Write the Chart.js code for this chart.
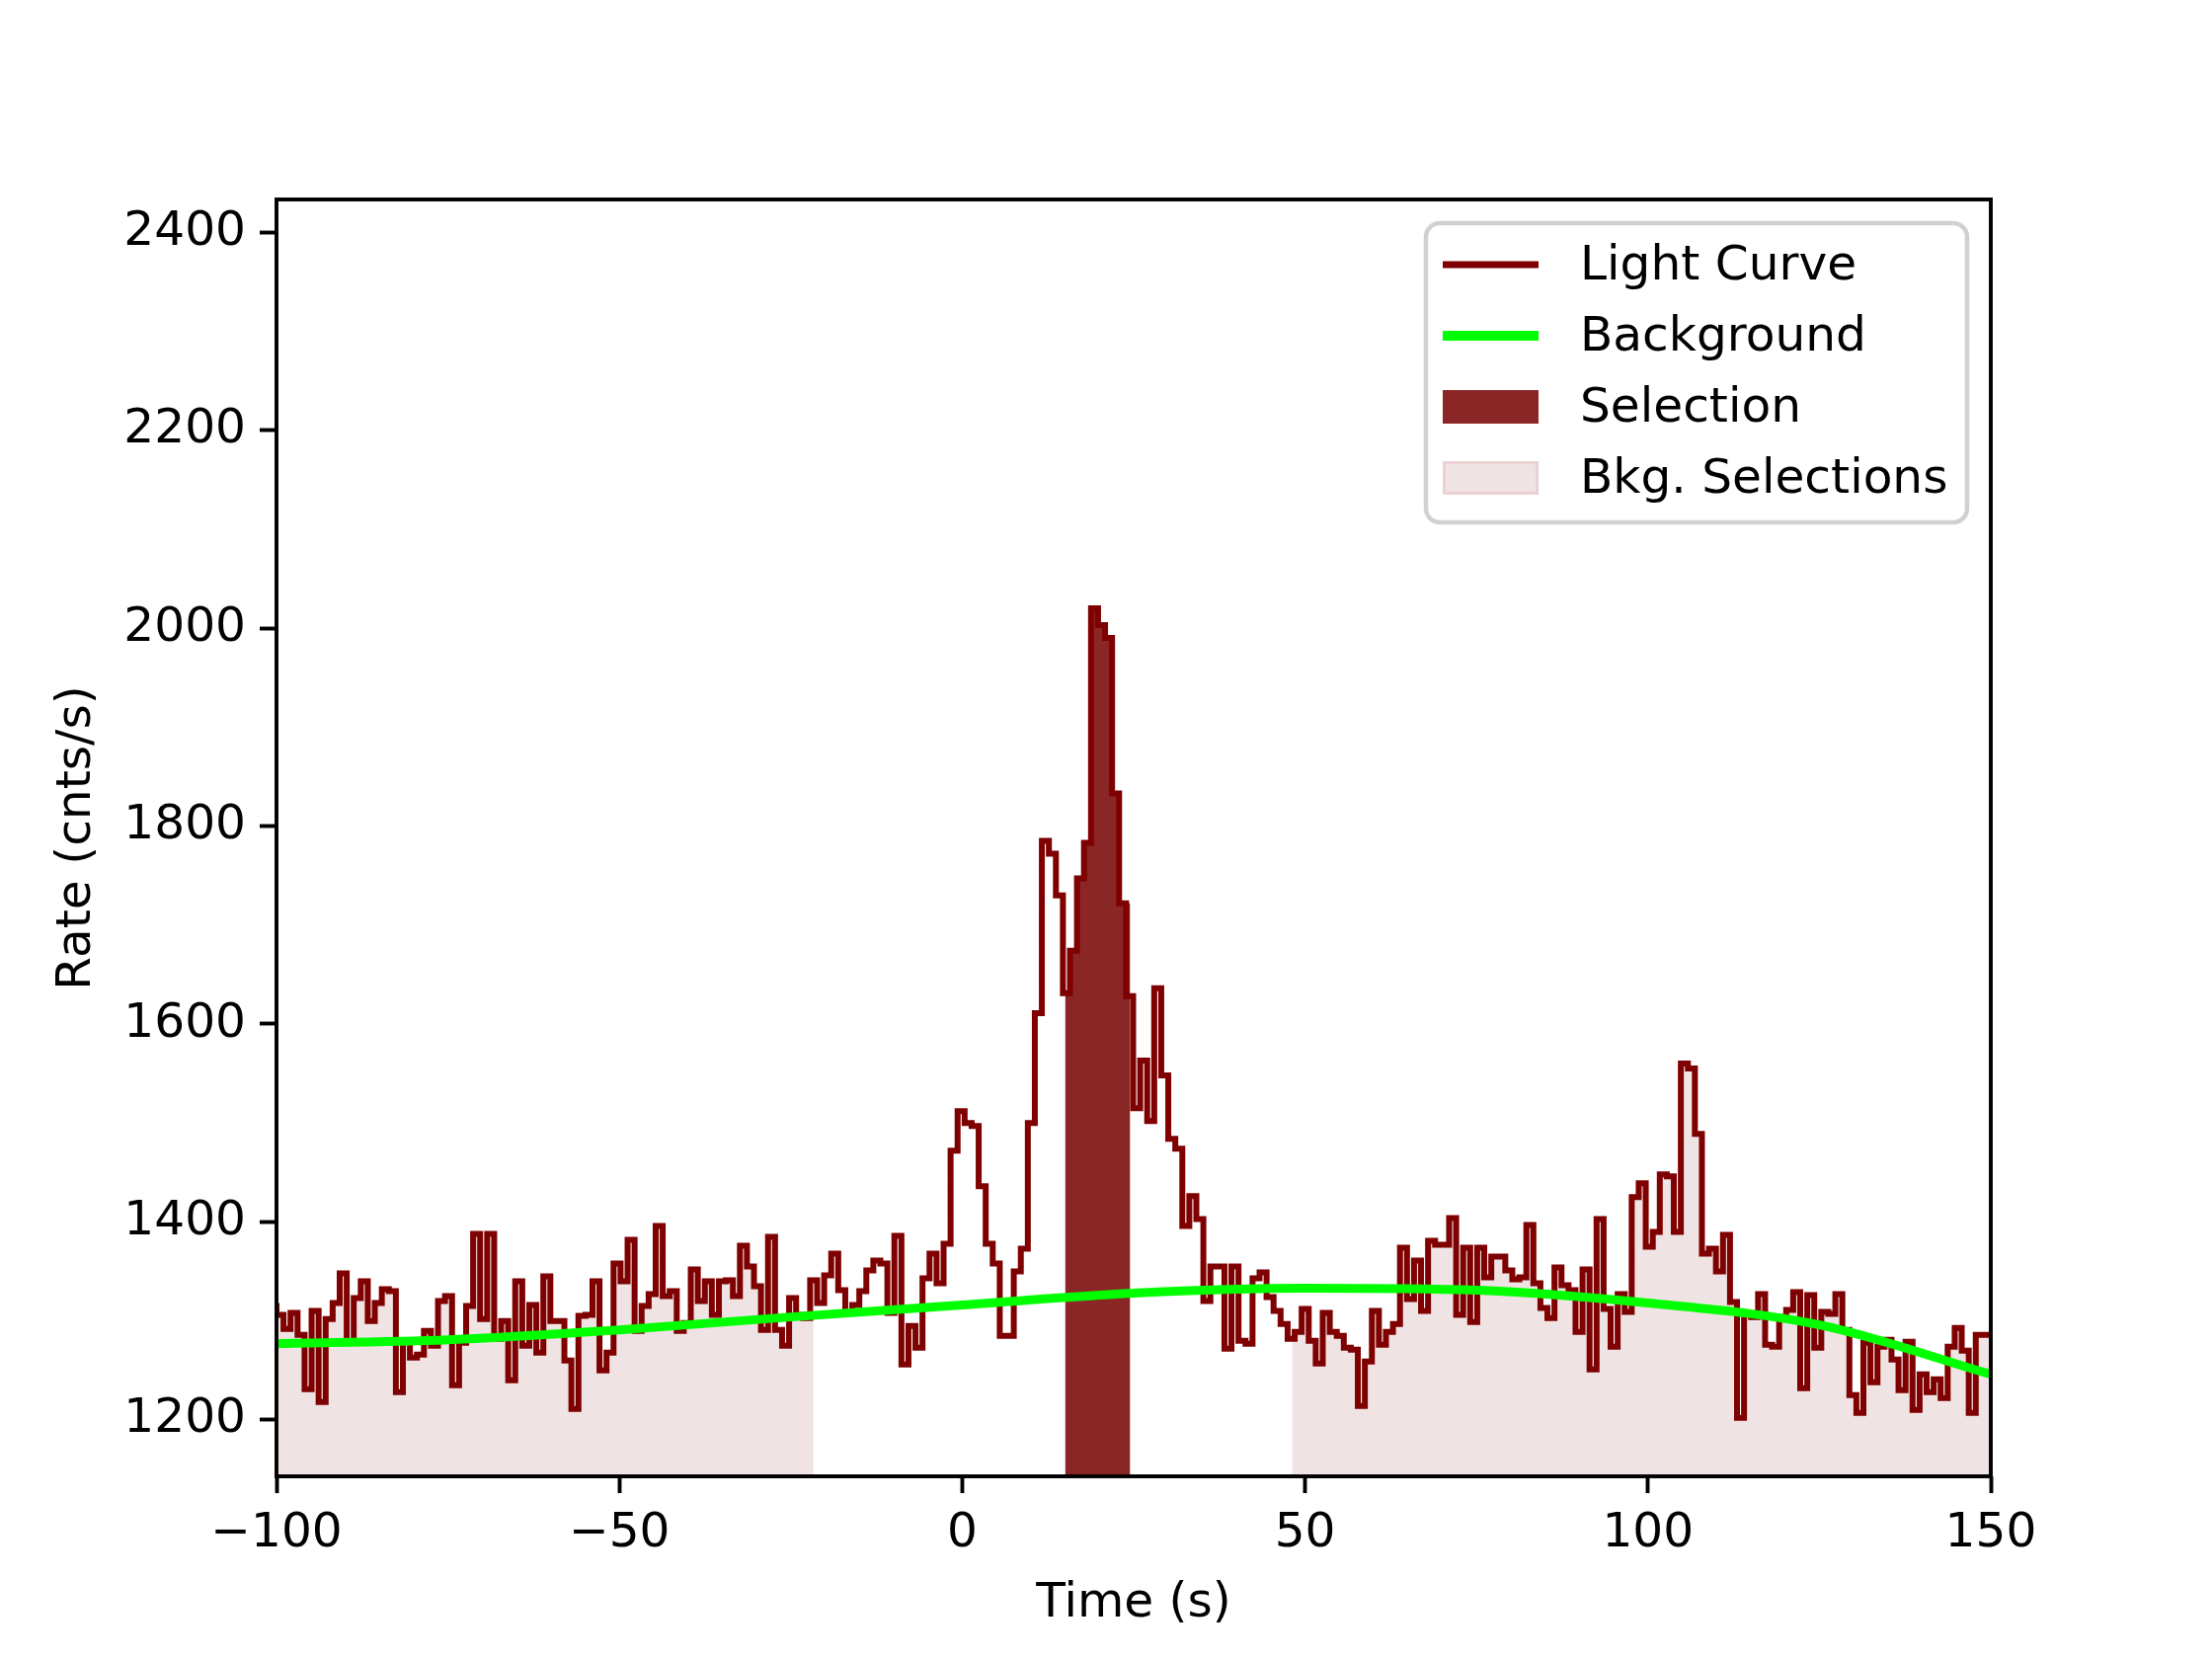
<!DOCTYPE html>
<html><head><meta charset="utf-8">
<script src="https://cdn.jsdelivr.net/npm/chart.js@4.4.1/dist/chart.umd.min.js"></script>
<style>html,body{margin:0;padding:0;background:#fff}</style>
</head><body>
<canvas id="c" width="2240" height="1680" style="width:2240px;height:1680px"></canvas>
<script>
const tStart = -100, tEnd = 150;
const rates = [
1318,1306,1292,1308,1286,1231,1310,1218,1302,1318,1348,1278,1323,1340,1300,1318,1332,1330,1228,1280,1263,1266,1290,1275,1320,1325,1235,1278,1315,1388,1302,1388,1282,1300,1240,1340,1275,1316,1268,1345,1300,1300,1260,1211,1305,1306,1340,1250,1268,1358,1340,1382,1290,1315,1327,1396,1325,1330,1290,1298,1352,1320,1340,1306,
1340,1341,1325,1376,1355,1335,1291,1385,1291,1275,1323,1306,1303,1341,1318,1346,1368,1331,1308,1316,1330,1351,1361,1358,1308,1386,1256,1295,1273,
1343,1368,1338,1378,1472,1512,1500,1497,1436,1378,1358,1285,1285,1350,1373,1500,1611,1785,1772,1730,1631,1674,1747,1783,2020,2003,1990,1833,1722,1628,1515,1563,1502,1636,1548,1484,1474,1396,1426,1403,1320,1355,1355,1272,1355,1280,1277,1343,
1349,1324,1310,1297,1282,1289,1312,1280,1257,1308,1289,1285,1273,1271,1214,1259,1310,1276,1289,1297,1374,1322,1361,1310,1381,1377,1377,1404,1306,1374,1299,1374,1344,1365,1365,1351,1342,1344,1397,1338,1313,1303,1354,1336,1331,1289,1352,
1251,1403,1312,1274,1327,1309,1425,1439,1375,1390,1448,1446,1390,1560,1555,1489,1368,1373,1350,1387,1319,1202,1307,1304,1327,1276,1274,1304,1311,1329,1232,1326,1273,1309,1307,1327,1291,1225,1207,1278,1238,1274,1281,1261,1230,1279,1210,1246,1228,1241,1222,1274,1293,1270,1207,1286
];
const binWidth = 1.024;
const bkgTimes = [-100,-75,-50,-25,0,25,50,75,100,125,150];
const bkgRates = [1277,1281,1291,1304,1316,1328,1333,1331,1318,1296,1246];
const selection = [15, 24.5];
const bkgSelections = [[-100,-21.7],[48.1,150]];
const xTicks = [-100,-50,0,50,100,150];
const yTicks = [1200,1400,1600,1800,2000,2200,2400];

const binW = binWidth;
const lcPts = rates.map((v,i)=>({x: tStart + i*binW, y: v}));
lcPts.push({x: tStart + rates.length*binW, y: rates[rates.length-1]});
function rateAt(t){ let i = Math.floor((t - tStart)/binW); i = Math.max(0, Math.min(rates.length-1, i)); return rates[i]; }
function segPts(a,b){
  const p=[{x:a,y:rateAt(a)}];
  for(let i=0;i<rates.length;i++){const e=tStart+i*binW; if(e>a&&e<b)p.push({x:e,y:rates[i]});}
  p.push({x:b,y:rateAt(b-1e-6)}); return p;
}
const FS = 48.6, FONT = 'DejaVu Sans';
const maroon = '#7f0000', selCol = '#8b2626', bkgCol = '#f0e3e4';

const frame = {id:'frame', afterDraw(ch){
  const a=ch.chartArea, c=ch.ctx; c.save(); c.strokeStyle='#000'; c.lineWidth=3.9;
  c.strokeRect(a.left,a.top,a.right-a.left,a.bottom-a.top);
  const L=1444,T=226,R=1992,B=529; c.lineWidth=4.5; c.strokeStyle='rgba(204,204,204,0.9)'; c.fillStyle='rgba(255,255,255,0.8)';
  c.beginPath(); c.roundRect(L,T,R-L,B-T,14); c.fill(); c.stroke();
  const rows=[268,340,412,484], hx=1461, hw=97;
  c.lineCap='butt';
  c.strokeStyle=maroon; c.lineWidth=7; c.beginPath(); c.moveTo(hx,rows[0]); c.lineTo(hx+hw,rows[0]); c.stroke();
  c.strokeStyle='#00ff00'; c.lineWidth=10; c.beginPath(); c.moveTo(hx,rows[1]); c.lineTo(hx+hw,rows[1]); c.stroke();
  c.fillStyle=selCol; c.fillRect(hx,rows[2]-17,hw,34);
  c.fillStyle=bkgCol; c.fillRect(hx,rows[3]-17,hw,34); c.strokeStyle='#ead2d4'; c.lineWidth=3; c.strokeRect(hx+1.5,rows[3]-15.5,hw-3,31);
  c.fillStyle='#000'; c.font=FS+'px "'+FONT+'"'; c.textBaseline='middle'; c.textAlign='left';
  ['Light Curve','Background','Selection','Bkg. Selections'].forEach((s,i)=>c.fillText(s,1600,rows[i]+2));
  c.restore();
}};

const fillDs = (pts,col,ord)=>({data:pts,stepped:'after',fill:'start',backgroundColor:col,borderWidth:0,pointRadius:0,order:ord});
new Chart(document.getElementById('c'),{
  type:'line',
  data:{datasets:[
    {label:'Background',data:bkgTimes.map((t,i)=>({x:t,y:bkgRates[i]})),borderColor:'#00ff00',borderWidth:9,pointRadius:0,cubicInterpolationMode:'monotone',fill:false,order:0},
    {label:'Light Curve',data:lcPts,stepped:'after',borderColor:maroon,borderWidth:6,pointRadius:0,fill:false,order:1},
    fillDs(segPts(selection[0],selection[1]),selCol,2),
    ...bkgSelections.map(s=>fillDs(segPts(s[0],s[1]),bkgCol,3))
  ]},
  options:{
    responsive:false,devicePixelRatio:1,animation:false,
    layout:{padding:{top:202,right:224,left:0,bottom:0}},
    plugins:{legend:{display:false},tooltip:{enabled:false}},
    scales:{
      x:{type:'linear',min:tStart,max:tEnd,
        afterBuildTicks(s){s.ticks=xTicks.map(v=>({value:v}));},
        afterFit(s){s.height=185;},
        grid:{drawOnChartArea:false,drawTicks:true,tickLength:17,tickWidth:3.9,tickColor:'#000'},
        border:{display:false},
        ticks:{padding:12,color:'#000',font:{family:FONT,size:FS},maxRotation:0,callback:v=>String(v).replace('-','\u2212')},
        title:{display:true,text:'Time (s)',color:'#000',font:{family:FONT,size:FS},padding:{top:0,bottom:26}}},
      y:{type:'linear',min:1143,max:2433,
        afterBuildTicks(s){s.ticks=yTicks.map(v=>({value:v}));},
        afterFit(s){s.width=280;},
        grid:{drawOnChartArea:false,drawTicks:true,tickLength:17,tickWidth:3.9,tickColor:'#000'},
        border:{display:false},
        ticks:{padding:14,color:'#000',font:{family:FONT,size:FS},callback:v=>String(v)},
        title:{display:true,text:'Rate (cnts/s)',color:'#000',font:{family:FONT,size:FS},padding:{top:49,bottom:0}}}
    }
  },
  plugins:[frame]
});
</script></body></html>
